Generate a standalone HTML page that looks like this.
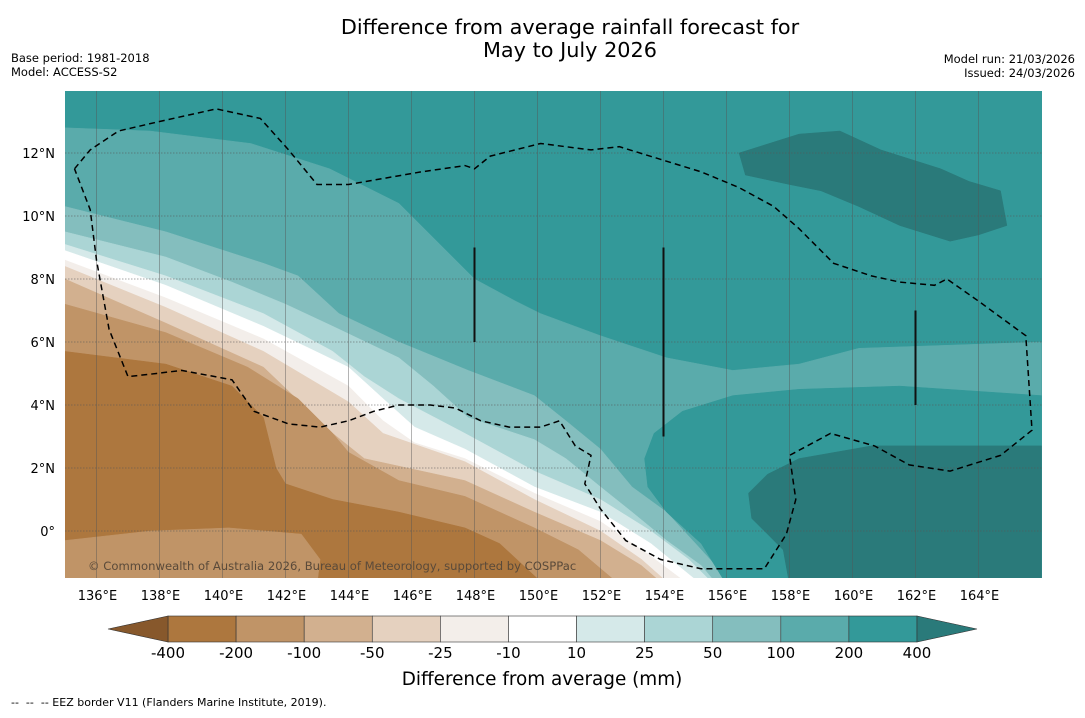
<!DOCTYPE html>
<html><head><meta charset="utf-8">
<style>
body{margin:0;background:#fff;width:1085px;height:713px;overflow:hidden;font-family:"Liberation Sans","DejaVu Sans",sans-serif}
svg text{font-family:"DejaVu Sans","Liberation Sans",sans-serif;white-space:pre}
</style></head><body>
<svg id="chart" width="1085" height="713" viewBox="0 0 1085 713" xmlns="http://www.w3.org/2000/svg">
<text x="570" y="34" text-anchor="middle" font-size="20.8">Difference from average rainfall forecast for</text>
<text x="570" y="57" text-anchor="middle" font-size="20.8">May to July 2026</text>
<text x="11" y="62" font-size="11.5">Base period: 1981-2018</text>
<text x="11" y="76" font-size="11.5">Model: ACCESS-S2</text>
<text x="1075" y="63" text-anchor="end" font-size="11.5">Model run: 21/03/2026</text>
<text x="1075" y="77" text-anchor="end" font-size="11.5">Issued: 24/03/2026</text>
<defs><clipPath id="mapclip"><rect x="65" y="91" width="977" height="487"/></clipPath></defs>
<g id="map" clip-path="url(#mapclip)"></g>
<g id="axes"></g>
<g id="cbar"></g>
<text x="542" y="685" text-anchor="middle" font-size="18.4">Difference from average (mm)</text>
<text x="11" y="706" font-size="11" xml:space="preserve">--  --  -- EEZ border V11 (Flanders Marine Institute, 2019).</text>
</svg>
<script>
// ---- data ----
const lonTicks=[136,138,140,142,144,146,148,150,152,154,156,158,160,162,164];
const latTicks=[0,2,4,6,8,10,12];
const cbarLevels=["-400","-200","-100","-50","-25","-10","10","25","50","100","200","400"];
const cbarColors=["#ad773e","#c09467","#d2b08f","#e5d1bf","#f3eeea","#ffffff","#d5e9e9","#abd5d5","#84bebe","#5aabab","#339999"];
const lowColor="#87582c", highColor="#2a7a7a";
const bgColor="#339999";
const b1=[[135,12.8],[137.7,12.7],[140.9,12.3],[143.4,11.5],[145.6,10.4],[146.9,9.1],[148,8],[149.3,7.3],[150.1,6.9],[152,6.2],[154.1,5.5],[156.2,5.1],[158.3,5.3],[160.2,5.8],[166,6],[166,-1.7],[135,-1.7]];
const b2=[[135,10.3],[138.2,9.5],[141.3,8.5],[142.4,8.1],[143.7,6.9],[145.6,6],[147.8,5.1],[149.9,4.3],[150.9,3.5],[152,2.6],[153,1.4],[154.1,0.6],[155.2,-0.6],[156.2,-1.7],[135,-1.7]];
const b3=[[135,9.5],[138.2,8.7],[140.3,7.9],[142,7.2],[143.5,6.5],[145.6,5.5],[146.7,4.6],[147.8,3.6],[149.9,2.9],[150.9,2.3],[152,1.4],[153,0.6],[154.1,-0.3],[155.2,-1.1],[155.7,-1.7],[135,-1.7]];
const b4=[[135,9.1],[138.2,8.1],[141.3,6.9],[143.5,5.7],[144.5,4.9],[145.6,4.2],[147.7,3.1],[149.9,1.9],[152,1],[153.6,0],[154.8,-0.9],[155.6,-1.7],[135,-1.7]];
const b5=[[135,8.9],[138.2,7.8],[141.3,6.5],[144,5.2],[145.1,4.2],[146.1,3.3],[147.7,2.6],[149.9,1.4],[152,0.6],[153.6,-0.4],[155.2,-1.7],[135,-1.7]];
const b6=[[135,8.6],[138.2,7.4],[141.3,6.1],[144,4.6],[145.1,3.5],[146.1,2.8],[147.7,2.3],[149.9,1.2],[152,0.3],[153.6,-0.8],[154.8,-1.7],[135,-1.7]];
const b7=[[135,8.4],[138.2,7.1],[141.3,5.7],[144,4.1],[145.1,3.1],[147.7,2.2],[149.9,1],[152,0],[153.3,-0.9],[154.2,-1.7],[135,-1.7]];
const b8=[[135,8],[138.2,6.6],[141.3,5.2],[143.5,3.1],[144.5,2.3],[147.7,1.6],[149.9,0.6],[152,-0.3],[153.3,-1.1],[154,-1.7],[135,-1.7]];
const b9=[[135,7.2],[138.2,6.3],[140.8,5.2],[142.4,4.2],[143.5,3.1],[144,2.5],[145.6,1.6],[147.7,1.1],[149.9,0.1],[151.3,-0.6],[152.6,-1.7],[135,-1.7]];
const b10=[[135,5.7],[138.2,5.3],[140.3,4.6],[141.3,3.6],[141.7,2],[142,1.5],[143.5,1],[145.6,0.6],[147.7,0.1],[148.8,-0.4],[150.2,-1.7],[135,-1.7]];
const blobSW=[[135,-0.3],[137.7,0],[140.2,0.1],[142.5,-0.1],[143.1,-0.9],[143,-1.7],[135,-1.7]];
const blobSE=[[166,4.3],[161.5,4.6],[158.3,4.5],[156.2,4.3],[154.6,3.8],[153.7,3.1],[153.4,2.3],[153.5,1.4],[154.1,0.6],[155.2,-0.4],[156,-1.7],[166,-1.7]];
const blobSEdark=[[166,2.7],[160.6,2.7],[158.3,2.3],[157.3,1.8],[156.7,1.2],[156.8,0.4],[157.3,-0.1],[157.8,-0.6],[158,-1.7],[166,-1.7]];
const blobNE=[[156.4,12],[158.3,12.6],[159.6,12.7],[160.9,12.1],[162.8,11.5],[163.7,11.1],[164.7,10.8],[164.9,9.7],[164,9.4],[163.1,9.2],[161.5,9.7],[160.2,10.3],[159,10.8],[158,11],[156.6,11.3]];
const eez=[[135.3,11.5],[135.8,12.1],[136.7,12.7],[138,13],[139.8,13.4],[141.2,13.1],[142.1,12.1],[143,11],[144,11],[146.3,11.4],[147.7,11.6],[148,11.5],[148.5,11.9],[150.1,12.3],[151.7,12.1],[152.6,12.2],[153.9,11.8],[155.2,11.4],[156.4,10.9],[157.5,10.3],[158.3,9.6],[159.4,8.5],[160.6,8.1],[161.5,7.9],[162.6,7.8],[163,8],[164,7.3],[165.5,6.2],[165.7,3.2],[164.7,2.4],[163.1,1.9],[161.8,2.1],[160.7,2.7],[159.3,3.1],[158,2.4],[158.2,1],[157.9,-0.1],[157.2,-1.2],[155.2,-1.2],[153.9,-0.9],[152.8,-0.3],[152,0.7],[151.5,1.5],[151.7,2.4],[151.2,2.7],[150.7,3.5],[150.1,3.3],[149.1,3.3],[148.2,3.5],[147.4,3.9],[146.6,4],[145.6,4],[144.8,3.8],[144,3.5],[143.1,3.3],[142.1,3.4],[141,3.8],[140.3,4.8],[138.7,5.1],[137.9,5],[137,4.9],[136.4,6.4],[136,8.6],[135.8,10.2],[135.3,11.5]];
const meridianSegs=[[148,9,6],[154,9,3],[162,7,4]];
// ---- axes ----
const X=lon=>65+(lon-135)*31.5;
const Y=lat=>531-lat*31.5;
const NS="http://www.w3.org/2000/svg";
function mk(tag,attrs,parent){const e=document.createElementNS(NS,tag);for(const k in attrs)e.setAttribute(k,attrs[k]);parent.appendChild(e);return e;}
const pts=a=>a.map(p=>X(p[0]).toFixed(1)+","+Y(p[1]).toFixed(1)).join(" ");
const map=document.getElementById("map");
let r=mk("rect",{x:65,y:91,width:977,height:487,fill:bgColor},map);


const layers=[[b1,cbarColors[9]],[b2,cbarColors[8]],[b3,cbarColors[7]],[b4,cbarColors[6]],[b5,cbarColors[5]],[b6,cbarColors[4]],[b7,cbarColors[3]],[b8,cbarColors[2]],[b9,cbarColors[1]],[b10,cbarColors[0]],[blobSW,cbarColors[1]],[blobSE,cbarColors[10]],[blobSEdark,highColor],[blobNE,highColor]];
layers.forEach((l,i)=>{const p=mk("polygon",{points:pts(l[0]),fill:l[1],stroke:l[1],"stroke-width":0.5},map);

});
lonTicks.forEach(v=>{const l=mk("line",{x1:X(v),x2:X(v),y1:91,y2:578,stroke:"#555","stroke-opacity":0.55,"stroke-width":0.8},map);

});
latTicks.forEach(v=>{const l=mk("line",{x1:65,x2:1042,y1:Y(v),y2:Y(v),stroke:"#555","stroke-opacity":0.7,"stroke-width":0.8,"stroke-dasharray":"1.5,1.5"},map);

});
meridianSegs.forEach(s=>{const l=mk("line",{x1:X(s[0]),x2:X(s[0]),y1:Y(s[1]),y2:Y(s[2]),stroke:"#111","stroke-width":2},map);

});
const ez=mk("polyline",{points:pts(eez),fill:"none",stroke:"#000","stroke-width":1.5,"stroke-dasharray":"6,4"},map);


const cp=mk("text",{x:88,y:570,"font-size":11.6,fill:"#5a4a3a"},map);
cp.textContent="© Commonwealth of Australia 2026, Bureau of Meteorology, supported by COSPPac";


const axes=document.getElementById("axes");
lonTicks.forEach(v=>{const t=mk("text",{x:X(v)+1,y:600,"text-anchor":"middle","font-size":13},axes);t.textContent=v+"°E";

});
latTicks.forEach(v=>{const t=mk("text",{x:55,y:Y(v)+5,"text-anchor":"end","font-size":13},axes);t.textContent=v===0?"0°":v+"°N";

});
// ---- colorbar ----
const cb=document.getElementById("cbar");
const cx0=168,cx1=917,cy0=616,cy1=642,bw=(cx1-cx0)/cbarColors.length;
cbarColors.forEach((c,i)=>{const b=mk("rect",{x:cx0+i*bw,y:cy0,width:bw,height:cy1-cy0,fill:c,stroke:"#333","stroke-width":0.6},cb);

});
let tl=mk("polygon",{points:`${cx0},${cy0} ${cx0},${cy1} 108,${(cy0+cy1)/2}`,fill:lowColor,stroke:"#333","stroke-width":0.6},cb);


let tr=mk("polygon",{points:`${cx1},${cy0} ${cx1},${cy1} 977,${(cy0+cy1)/2}`,fill:highColor,stroke:"#333","stroke-width":0.6},cb);


cbarLevels.forEach((s,i)=>{const t=mk("text",{x:cx0+i*bw,y:658,"text-anchor":"middle","font-size":15},cb);t.textContent=s;

});
</script>
</body></html>
